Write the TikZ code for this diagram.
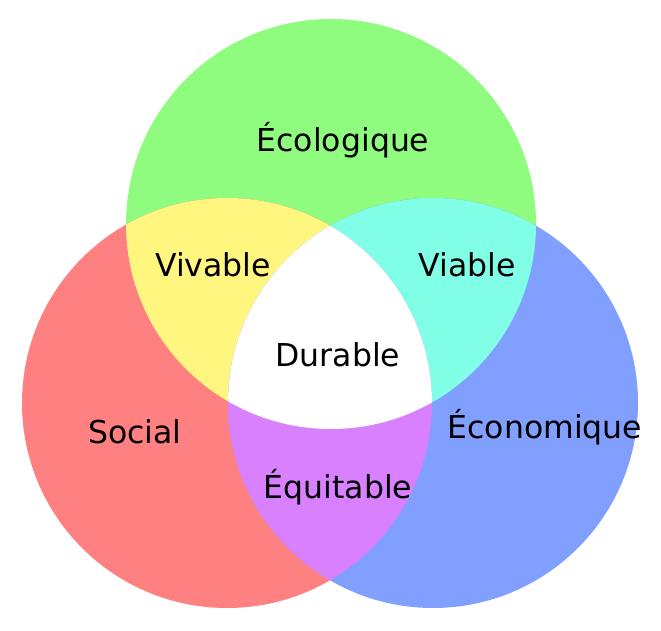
\documentclass[tikz,border=0pt]{standalone}
\usepackage{fontspec}
\setmainfont{DejaVu Sans}
\definecolor{ecogreen}{HTML}{8FFC7F}
\definecolor{socred}{HTML}{FF8080}
\definecolor{econblue}{HTML}{809FFF}
\definecolor{vivyellow}{HTML}{FFF680}
\definecolor{viacyan}{HTML}{80FFE6}
\definecolor{equimagenta}{HTML}{D980FF}
\tikzset{
	lbl/.style={font=\fontsize{31.5}{31.5}\selectfont, anchor=base, inner sep=0pt},
	ring/.style={radius=205pt}
}

\begin{document}
\begin{tikzpicture}[x=1pt, y=1pt]
					\useasboundingbox (0,0) rectangle (661,630);
					\coordinate (eco) at (331,406);
					\coordinate (soc) at (227,227);
					\coordinate (econ) at (433,227);

					\fill[ecogreen] (eco) circle[ring];
					\fill[socred] (soc) circle[ring];
					\fill[econblue] (econ) circle[ring];

					\begin{scope}
						\clip (eco) circle[ring];
						\fill[vivyellow] (soc) circle[ring];
						\fill[viacyan] (econ) circle[ring];
					\end{scope}
					\begin{scope}
						\clip (soc) circle[ring];
						\fill[equimagenta] (econ) circle[ring];
					\end{scope}
					\begin{scope}
						\clip (eco) circle[ring];
						\clip (soc) circle[ring];
						\fill[white] (econ) circle[ring];
					\end{scope}

					\node[lbl] (ecolabel) at (343,478) {Écologique};
					\node[lbl] (vivable) at (213,353) {Vivable};
					\node[lbl] (viable) at (467,353) {Viable};
					\node[lbl] (durable) at (338,264) {Durable};
					\node[lbl] (social) at (135,187) {Social};
					\node[lbl] (econlabel) at (545,192) {Économique};
					\node[lbl] (equitable) at (338,132) {Équitable};
				\end{tikzpicture}
\end{document}
